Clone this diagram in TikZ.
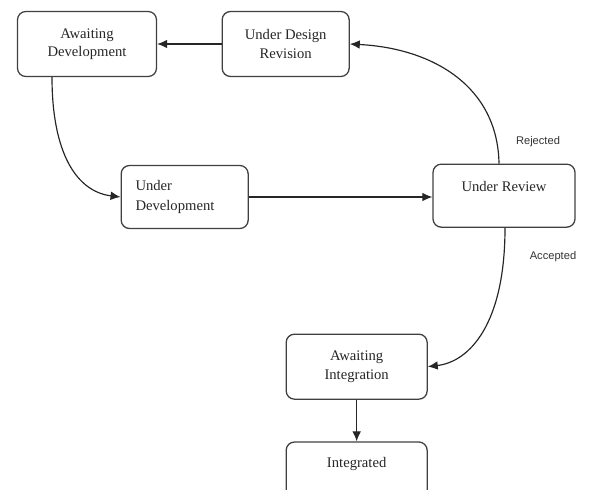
\documentclass[tikz,border=0pt]{standalone}
\usetikzlibrary{calc,positioning,arrows.meta}
\usepackage{fontspec}
\setmainfont{Liberation Serif}
\newfontfamily\labelfont{Liberation Sans}

\tikzset{
  state/.style={draw=black!75, line width=1.1pt, rounded corners=0.25cm,
    align=center, font=\fontsize{12.5}{15.5}\selectfont, text=black!85},
  flow/.style={black!85, line width=1pt, -{Latex[length=3mm,width=2.6mm]}},
  choice/.style={font=\labelfont\fontsize{9.5}{11}\selectfont, text=black!80}
}

\begin{document}
\begin{tikzpicture}

    \useasboundingbox (0,0) rectangle (17.76,-14.67);
    \clip (0,0) rectangle (17.76,-14.67);

    \node[state, minimum width=4.17cm, minimum height=1.95cm] (awdev) at (2.61,-1.32) {Awaiting\\Development};
    \node[state, minimum width=3.81cm, minimum height=1.95cm] (design) at (8.57,-1.32) {Under Design\\Revision};
    \node[state, minimum width=3.81cm, minimum height=1.89cm, text width=2.95cm, align=left] (undev) at (5.54,-5.91) {Under\\[2pt]Development};
    \node[state, minimum width=4.26cm, minimum height=1.89cm] (review) at (15.12,-5.87) {Under Review\\~};
    \node[state, minimum width=4.23cm, minimum height=1.95cm] (awint) at (10.70,-11.00) {Awaiting\\Integration};
    \node[state, minimum width=4.23cm, minimum height=1.74cm] (integ) at (10.70,-14.13) {Integrated\\~};

    \draw[flow] (design.west) -- (awdev.east);
    \draw[flow] (undev.east) -- (undev.east -| review.west);
    \draw[flow] (awint.south) -- (integ.north);
    \draw[flow] ([xshift=-0.15cm]review.north) .. controls (14.93,-2.6) and (13.0,-1.45) .. (design.east);
    \draw[flow] ([xshift=-1.05cm]awdev.south) .. controls (1.56,-4.6) and (2.3,-5.75) .. (undev.west);
    \draw[flow] ([xshift=0.03cm]review.south) .. controls (15.15,-9.7) and (14.1,-10.85) .. (awint.east);

    \node[choice] (rej) at (16.14,-4.26) {Rejected};
    \node[choice] (acc) at (16.59,-7.71) {Accepted};

  \end{tikzpicture}
\end{document}
